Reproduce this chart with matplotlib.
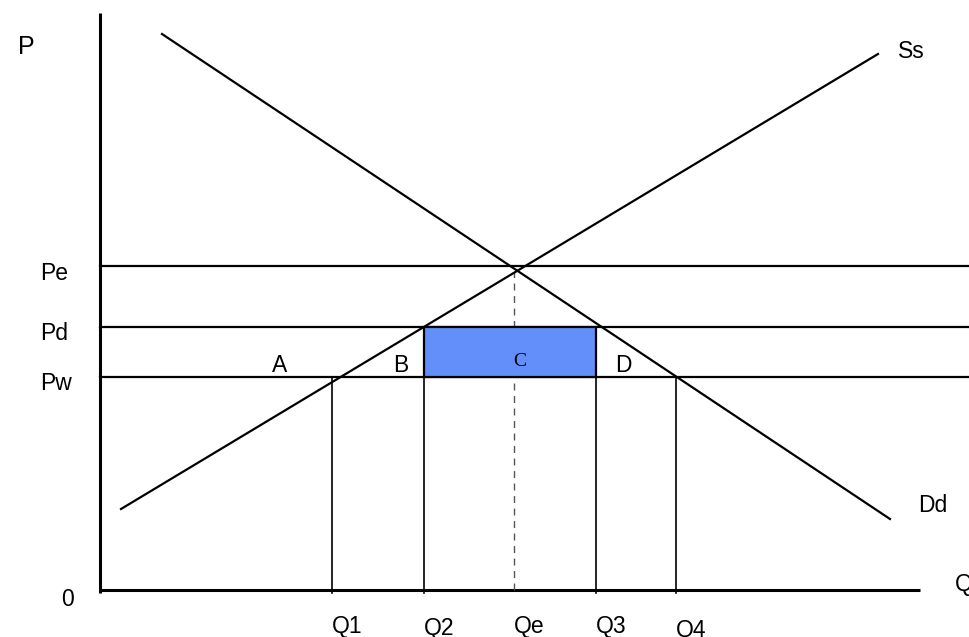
import matplotlib.pyplot as plt
from matplotlib.patches import Rectangle

# quantities measured from the origin along Q, prices measured up from the origin
q_names = ['Q1', 'Q2', 'Qe', 'Q3', 'Q4']
q_vals = [232, 324, 414, 496, 576]
p_names = ['Pe', 'Pd', 'Pw']
p_vals = [324, 263, 213]

# end points of the two curves
supply_q = [21, 778]
supply_p = [81, 536]
demand_q = [62, 790]
demand_p = [556, 71]

# welfare area labels (Q, P)
area_names = ['A', 'B', 'D']
area_q = [180, 301, 523]
area_p = [225, 224, 225]

q1, q2, qe, q3, q4 = q_vals
pe, pd, pw = p_vals

plt.rcParams['font.family'] = ['Liberation Sans', 'DejaVu Sans']

fig = plt.figure(figsize=(9.7, 6.37), dpi=100)
ax = fig.add_axes([0, 0, 1, 1])
ax.set_xlim(-100, 870)
ax.set_ylim(-47, 590)
ax.axis('off')

# axes
ax.plot([0, 0], [-3, 577], color='black', lw=2.2, solid_capstyle='butt')
ax.plot([0, 820], [0, 0], color='black', lw=2.2, solid_capstyle='butt')

# price lines
for p in p_vals:
    ax.plot([0, 870], [p, p], color='black', lw=1.6)

# tariff revenue box
ax.add_patch(Rectangle((q2, pw), q3 - q2, pd - pw, facecolor='#628ff9',
                       edgecolor='black', lw=1.6, zorder=3))

# supply and demand
ax.plot(supply_q, supply_p, color='black', lw=1.6, zorder=4)
ax.plot(demand_q, demand_p, color='black', lw=1.6, zorder=4)

# quantity drop lines
for q, top in zip([q1, q2, q3, q4], [pw, pd, pd, pw]):
    ax.plot([q, q], [-3, top], color='black', lw=1.2, zorder=4)
ax.plot([qe, qe], [0, 318], color='#555555', lw=1.0, ls=(0, (5, 4)))

# labels
fs = 16.5
ax.text(-82, 543, 'P', fontsize=18, ha='left', va='center')
ax.text(-32, -9, '0', fontsize=fs, ha='center', va='center')
ax.text(855, 5, 'Q', fontsize=fs, ha='left', va='center')
ax.text(798, 538, 'Ss', fontsize=fs, ha='left', va='center')
ax.text(818, 85, 'Dd', fontsize=fs, ha='left', va='center')
for name, p in zip(p_names, p_vals):
    ax.text(-60, p - 7, name, fontsize=fs, ha='left', va='center')
offsets = [-37, -39, -37, -36, -40]
for name, q, dy in zip(q_names, q_vals, offsets):
    ax.text(q + 15, dy, name, fontsize=fs, ha='center', va='center')
for name, q, p in zip(area_names, area_q, area_p):
    ax.text(q, p, name, fontsize=fs, ha='center', va='center')
ax.text(420, 228, 'C', fontsize=14, family='Liberation Serif',
        ha='center', va='center', zorder=5)

fig.savefig('out.png', dpi=100)
